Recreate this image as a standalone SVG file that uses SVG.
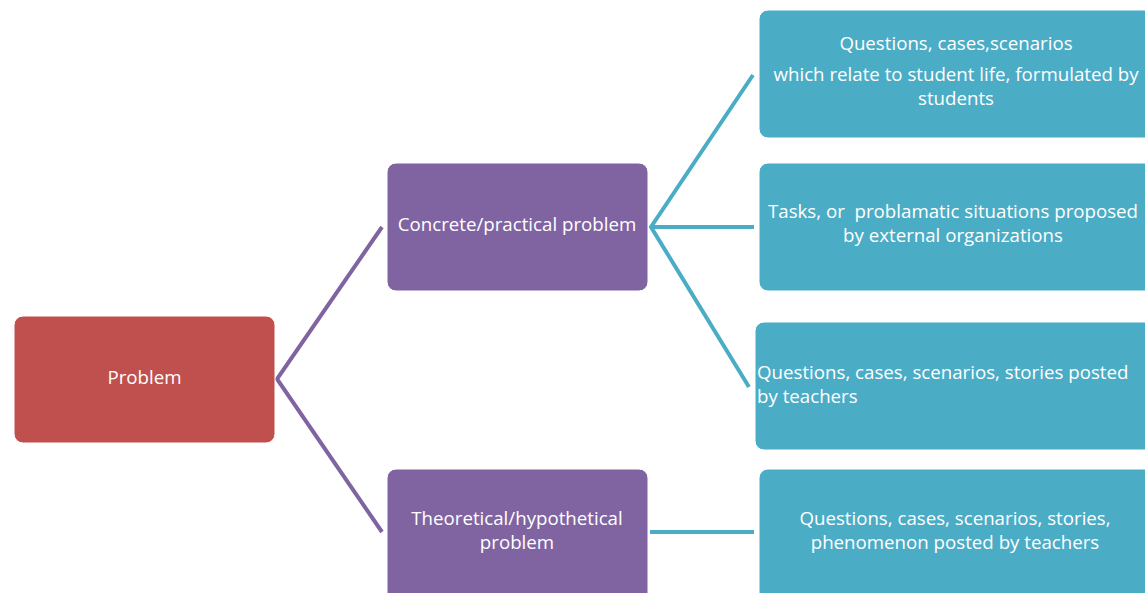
<svg xmlns="http://www.w3.org/2000/svg" width="1145" height="593" viewBox="0 0 1145 593">
  <style>
    .box { stroke: #ffffff; stroke-width: 1; }
    .red { fill: #C0504D; }
    .purple { fill: #8064A2; }
    .blue { fill: #4BACC6; }
    .lbl { font-family: "Open Sans", "Liberation Sans", sans-serif; font-size: 18.7px; fill: #ffffff; white-space: pre; }
    .mid { text-anchor: middle; }
    .c-purple { stroke: #8064A2; stroke-width: 4; fill: none; }
    .c-blue { stroke: #4BACC6; stroke-width: 4; fill: none; }
  </style>

  <g id="connectors">
    <polyline class="c-purple" points="382,227 277,379 382,532"/>
    <polyline class="c-blue" points="753,75 651,227 749,387"/>
    <line class="c-blue" x1="651" y1="227" x2="754" y2="227"/>
    <line class="c-blue" x1="650" y1="532" x2="754" y2="532"/>
  </g>

  <g id="problem">
    <rect class="box red" x="14" y="316" width="261" height="127" rx="9"/>
    <text class="lbl mid" x="144.5" y="384">Problem</text>
  </g>

  <g id="concrete">
    <rect class="box purple" x="387" y="163" width="261" height="128" rx="9"/>
    <text class="lbl mid" x="517" y="231">Concrete/practical problem</text>
  </g>

  <g id="theoretical">
    <rect class="box purple" x="387" y="469" width="261" height="135" rx="9"/>
    <text class="lbl mid" x="517" y="525">Theoretical/hypothetical</text>
    <text class="lbl mid" x="517" y="549">problem</text>
  </g>

  <g id="student-cases">
    <rect class="box blue" x="759" y="10" width="400" height="128" rx="9"/>
    <text class="lbl mid" x="956" y="50">Questions, cases,scenarios</text>
    <text class="lbl mid" x="956" y="81">which relate to student life, formulated by</text>
    <text class="lbl mid" x="956" y="105">students</text>
  </g>

  <g id="external-tasks">
    <rect class="box blue" x="759" y="163" width="400" height="128" rx="9"/>
    <text class="lbl mid" x="953" y="218" xml:space="preserve">Tasks, or  problamatic situations proposed</text>
    <text class="lbl mid" x="953" y="242">by external organizations</text>
  </g>

  <g id="teacher-stories">
    <rect class="box blue" x="755" y="322" width="404" height="128" rx="9"/>
    <text class="lbl" x="757" y="379">Questions, cases, scenarios, stories posted</text>
    <text class="lbl" x="757" y="403">by teachers</text>
  </g>

  <g id="teacher-phenomena">
    <rect class="box blue" x="759" y="469" width="400" height="135" rx="9"/>
    <text class="lbl mid" x="955" y="525">Questions, cases, scenarios, stories,</text>
    <text class="lbl mid" x="955" y="549">phenomenon posted by teachers</text>
  </g>
</svg>
